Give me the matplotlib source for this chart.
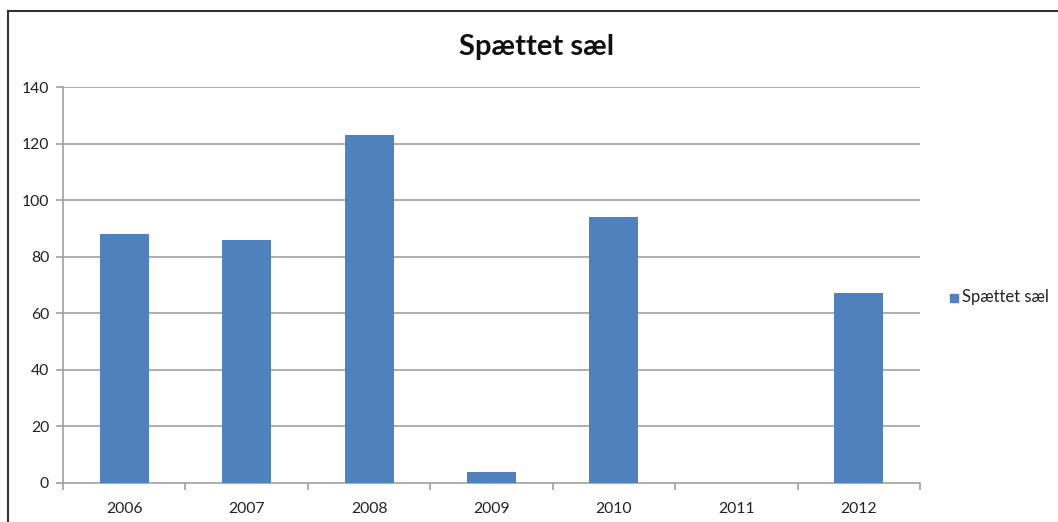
import numpy as np
import matplotlib.pyplot as plt
from matplotlib.lines import Line2D
from matplotlib.patches import Rectangle

years = ["2006", "2007", "2008", "2009", "2010", "2011", "2012"]
counts = [88, 86, 123, 4, 94, 0, 67]
series_name = "Spættet sæl"
y_ticks = [0, 20, 40, 60, 80, 100, 120, 140]

bar_color = "#4F81BD"
grid_color = "#A0A0A0"

plt.rcParams['font.family'] = ['Lato', 'DejaVu Sans']

W, H = 1058, 522
fig = plt.figure(figsize=(W / 100, H / 100), dpi=100)

# plot area in pixels: left 63, right 920, top 87, bottom 483
ax = fig.add_axes([63 / W, 1 - 483 / H, (920 - 63) / W, (483 - 87) / H])

x = np.arange(len(years))
ax.bar(x, counts, width=0.4, color=bar_color, zorder=3)

ax.set_xlim(-0.5, len(years) - 0.5)
ax.set_ylim(0, 140)
ax.set_yticks(y_ticks)
ax.set_yticklabels([str(v) for v in y_ticks], fontsize=11.3, color="#222222")
ax.set_xticks(x)
ax.set_xticklabels(years, fontsize=11.3, color="#222222")
ax.tick_params(axis='x', length=0, pad=14)
ax.tick_params(axis='y', length=5, color=grid_color, width=1.2, pad=5)

# category boundary tick marks below the x axis
ax.set_xticks(np.arange(-0.5, len(years)), minor=True)
ax.tick_params(axis='x', which='minor', length=5, color=grid_color, width=1.2)

for v in y_ticks[1:]:
    ax.axhline(v, color=grid_color, lw=1.2, zorder=1)

for side in ("top", "right"):
    ax.spines[side].set_visible(False)
for side in ("left", "bottom"):
    ax.spines[side].set_color(grid_color)
    ax.spines[side].set_linewidth(1.2)

fig.text(537 / W, 1 - 47 / H, series_name, ha='center', va='center',
         fontsize=21, fontweight='bold', color="#111111")

# legend entry on the right
fig.patches.append(Rectangle((950 / W, 1 - 302 / H), 8 / W, 8 / H,
                             transform=fig.transFigure, color=bar_color))
fig.text(962 / W, 1 - 297 / H, series_name, ha='left', va='center',
         fontsize=12, color="#222222")

# chart frame (left and top edges)
fig.add_artist(Line2D([8 / W, 8 / W], [0, 1 - 11 / H], transform=fig.transFigure,
                      color="#333333", lw=1.5))
fig.add_artist(Line2D([8 / W, 1], [1 - 11 / H, 1 - 11 / H], transform=fig.transFigure,
                      color="#333333", lw=1.5))

fig.savefig("out.png", dpi=100)
